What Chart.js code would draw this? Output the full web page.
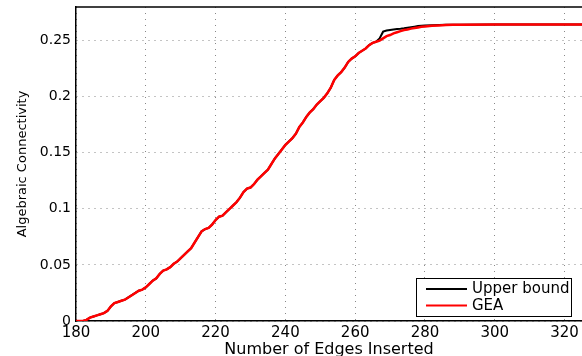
<!DOCTYPE html>
<html>
<head>
<meta charset="utf-8">
<script src="https://cdn.jsdelivr.net/npm/chart.js@4/dist/chart.umd.min.js"></script>
<style>
  body { margin: 0; background: #fff; }
  canvas { display: block; }
</style>
</head>
<body>
<canvas id="canvas" width="582" height="356"></canvas>
<script>
var edges = [
	180, 181, 182, 183, 184, 185, 186, 187, 188, 189,
	190, 191, 192, 193, 194, 195, 196, 197, 198, 199,
	200, 201, 202, 203, 204, 205, 206, 207, 208, 209,
	210, 211, 212, 213, 214, 215, 216, 217, 218, 219,
	220, 221, 222, 223, 224, 225, 226, 227, 228, 229,
	230, 231, 232, 233, 234, 235, 236, 237, 238, 239,
	240, 241, 242, 243, 244, 245, 246, 247, 248, 249,
	250, 251, 252, 253, 254, 255, 256, 257, 258, 259,
	260, 261, 262, 263, 264, 265, 266, 267, 268, 269,
	270, 271, 272, 273, 274, 275, 276, 277, 278, 279,
	280, 282, 284, 286, 288, 290, 300, 325 ];

var upperBound = [
	0, 0, 0, 0.001, 0.003, 0.004, 0.005, 0.006, 0.007, 0.009,
	0.013, 0.016, 0.017, 0.018, 0.019, 0.021, 0.023, 0.025, 0.027, 0.028,
	0.030, 0.033, 0.036, 0.038, 0.042, 0.045, 0.046, 0.048, 0.051, 0.053,
	0.056, 0.059, 0.062, 0.065, 0.070, 0.075, 0.080, 0.082, 0.083, 0.086,
	0.090, 0.093, 0.094, 0.097, 0.100, 0.103, 0.106, 0.110, 0.115, 0.118,
	0.119, 0.122, 0.126, 0.129, 0.132, 0.135, 0.140, 0.145, 0.149, 0.153,
	0.157, 0.160, 0.163, 0.167, 0.173, 0.177, 0.182, 0.186, 0.189, 0.193,
	0.196, 0.199, 0.203, 0.208, 0.215, 0.219, 0.222, 0.226, 0.231, 0.234,
	0.236, 0.239, 0.241, 0.243, 0.246, 0.248, 0.249, 0.252, 0.258, 0.259,
	0.2595, 0.260, 0.2603, 0.2606, 0.261, 0.2615, 0.262, 0.2625, 0.263, 0.2633,
	0.2636, 0.2638, 0.264, 0.2641, 0.2642, 0.2642, 0.2643, 0.2643 ];

var gea = [
	0, 0, 0, 0.001, 0.003, 0.004, 0.005, 0.006, 0.007, 0.009,
	0.013, 0.016, 0.017, 0.018, 0.019, 0.021, 0.023, 0.025, 0.027, 0.028,
	0.030, 0.033, 0.036, 0.038, 0.042, 0.045, 0.046, 0.048, 0.051, 0.053,
	0.056, 0.059, 0.062, 0.065, 0.070, 0.075, 0.080, 0.082, 0.083, 0.086,
	0.090, 0.093, 0.094, 0.097, 0.100, 0.103, 0.106, 0.110, 0.115, 0.118,
	0.119, 0.122, 0.126, 0.129, 0.132, 0.135, 0.140, 0.145, 0.149, 0.153,
	0.157, 0.160, 0.163, 0.167, 0.173, 0.177, 0.182, 0.186, 0.189, 0.193,
	0.196, 0.199, 0.203, 0.208, 0.215, 0.219, 0.222, 0.226, 0.231, 0.234,
	0.236, 0.239, 0.241, 0.243, 0.246, 0.248, 0.249, 0.250, 0.252, 0.254,
	0.255, 0.2565, 0.2575, 0.2585, 0.2595, 0.260, 0.2607, 0.2613, 0.2618, 0.2623,
	0.2627, 0.2632, 0.2636, 0.2639, 0.2641, 0.2642, 0.2643, 0.2643 ];

var xTicks = [ 180, 200, 220, 240, 260, 280, 300, 320 ];
var yTicks = [ 0, 0.05, 0.1, 0.15, 0.2, 0.25 ];

var toPoints = function(values) {
	return values.map(function(v, i) {
		return { x : edges[i], y : v };
	});
};

// top frame line (matlab box) and the legend box in the lower right corner
var boxPlugin = {
	id : 'box',
	afterDraw : function(chart) {
		var ctx = chart.ctx, a = chart.chartArea;
		ctx.save();
		ctx.strokeStyle = '#000';
		ctx.lineWidth = 1.5;
		ctx.beginPath();
		ctx.moveTo(a.left, a.top);
		ctx.lineTo(a.right, a.top);
		ctx.stroke();

		var w = 155, h = 38;
		var x0 = a.right - 11 - w, y0 = a.bottom - 5 - h;
		ctx.fillStyle = '#fff';
		ctx.fillRect(x0, y0, w, h);
		ctx.lineWidth = 1;
		ctx.strokeRect(x0 + 0.5, y0 + 0.5, w, h);
		ctx.font = '15px "DejaVu Sans"';
		ctx.textBaseline = 'middle';
		chart.data.datasets.forEach(function(ds, i) {
			var y = y0 + 11 + i * 16.5;
			ctx.strokeStyle = ds.borderColor;
			ctx.lineWidth = 2;
			ctx.beginPath();
			ctx.moveTo(x0 + 10, y);
			ctx.lineTo(x0 + 51, y);
			ctx.stroke();
			ctx.fillStyle = '#000';
			ctx.fillText(ds.label, x0 + 56, y + 0.5);
		});
		ctx.restore();
	}
};

window.onload = function() {
	var ctx = document.getElementById("canvas").getContext("2d");
	window.myLine = new Chart(ctx, {
		type : 'line',
		data : {
			datasets : [ {
				label : 'Upper bound',
				data : toPoints(upperBound),
				borderColor : '#000000',
				borderWidth : 2,
				pointRadius : 0,
				tension : 0,
				order : 1
			}, {
				label : 'GEA',
				data : toPoints(gea),
				borderColor : '#ff0000',
				borderWidth : 2.5,
				pointRadius : 0,
				tension : 0,
				order : 0
			} ]
		},
		options : {
			responsive : false,
			animation : false,
			layout : { padding : { top : 7, left : 0, right : 0, bottom : 0 } },
			plugins : {
				legend : { display : false },
				tooltip : { enabled : false }
			},
			scales : {
				x : {
					type : 'linear',
					min : 180,
					max : 325,
					afterBuildTicks : function(scale) {
						scale.ticks = xTicks.map(function(v) { return { value : v }; });
					},
					afterFit : function(scale) {
						scale.height = 35;
						scale.paddingLeft = 0;
						scale.paddingRight = 0;
					},
					ticks : {
						autoSkip : false,
						maxRotation : 0,
						padding : 3,
						color : '#000',
						font : { family : 'DejaVu Sans', size : 15 }
					},
					grid : { color : '#888', lineWidth : 1, drawTicks : false },
					border : { color : '#000', width : 1.5, dash : [ 1, 5 ] },
					title : {
						display : true,
						text : 'Number of Edges Inserted',
						color : '#000',
						font : { family : 'DejaVu Sans', size : 16, lineHeight : 0.8 },
						padding : { top : 0, bottom : 0 }
					}
				},
				y : {
					min : 0,
					max : 0.28,
					afterBuildTicks : function(scale) {
						scale.ticks = yTicks.map(function(v) { return { value : v }; });
					},
					afterFit : function(scale) {
						scale.width = 76;
						scale.paddingTop = 0;
						scale.paddingBottom = 0;
					},
					ticks : {
						padding : 5,
						color : '#000',
						font : { family : 'DejaVu Sans', size : 14 },
						callback : function(v) { return String(+v.toFixed(2)); }
					},
					grid : { color : '#888', lineWidth : 1, drawTicks : false },
					border : { color : '#000', width : 1.5, dash : [ 1, 5 ] },
					title : {
						display : true,
						text : 'Algebraic Connectivity',
						color : '#000',
						font : { family : 'DejaVu Sans', size : 13 },
						padding : { top : 15, bottom : 0 }
					}
				}
			}
		},
		plugins : [ boxPlugin ]
	});
};
</script>
</body>
</html>
